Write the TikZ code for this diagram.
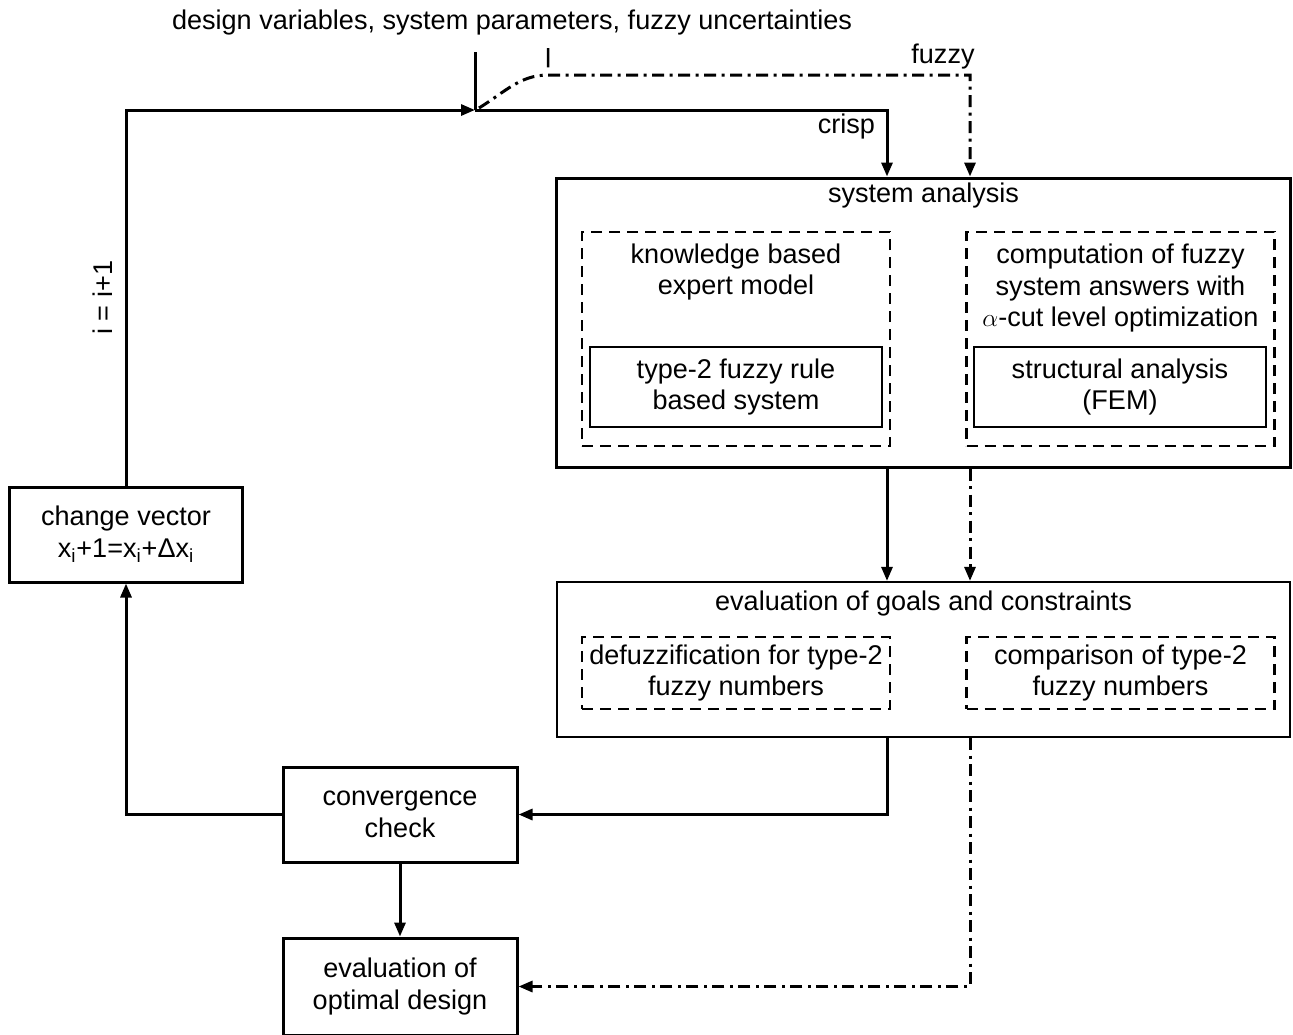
\documentclass[tikz,border=0pt]{standalone}
\usepackage{fontspec}
\setmainfont{Liberation Sans}
\usetikzlibrary{arrows.meta,calc}

\begin{document}
\begin{tikzpicture}[x=0.2mm, y=-0.2mm, >={Triangle[length=2.8mm,width=2.2mm]},
	font=\fontsize{15.4pt}{18pt}\selectfont]
	
	\tikzstyle{mainbox}=[draw, line width=0.6mm, align=center, inner sep=0pt]
	\tikzstyle{evalbox}=[draw, line width=0.45mm, align=center, inner sep=0pt]
	\tikzstyle{groupbox}=[draw, dashed, dash pattern=on 2.2mm off 1.4mm, line width=0.5mm,
	align=center, inner sep=0pt, minimum width=61.6mm]
	\tikzstyle{innerbox}=[draw, line width=0.3mm, align=center, inner sep=0pt,
	minimum width=58.4mm, minimum height=16mm]
	\tikzstyle{caption}=[align=center, inner sep=1pt]
	\tikzstyle{flow}=[line width=0.6mm]
	\tikzstyle{fuzzyflow}=[line width=0.6mm, dash pattern=on 2.4mm off 1.1mm on 0.6mm off 1.1mm]
	
	\useasboundingbox (0,0) rectangle (1293,1034);
	
	% Input text
	\node[caption] (input) at (512,22) {design variables, system parameters, fuzzy uncertainties};
	
	% System analysis
	\node[mainbox, minimum width=146.6mm, minimum height=57.8mm] (sys) at (923.5,322.5) {};
	\node[caption] (systitle) at (923.5,195) {system analysis};
	\node[groupbox, minimum height=42.8mm] (expert) at (736,339) {};
	\node[caption] (experttext) at (736,272) {knowledge based\\expert model};
	\node[innerbox] (rules) at (736,387) {type-2 fuzzy rule\\based system};
	\node[groupbox, minimum height=42.8mm] (alphacut) at (1120.5,339) {};
	\node[caption] (alphatext) at (1120.5,288) {computation of fuzzy\\system answers with\\$\alpha$-cut level optimization};
	\node[innerbox] (fem) at (1120,387) {structural analysis\\(FEM)};
	
	% Goals and constraints
	\node[evalbox, minimum width=146.6mm, minimum height=31mm] (goals) at (923.5,659.5) {};
	\node[caption] (goalstitle) at (923.5,603) {evaluation of goals and constraints};
	\node[groupbox, minimum height=14.4mm] (defuzz) at (736,673) {defuzzification for type-2\\fuzzy numbers};
	\node[groupbox, minimum height=14.4mm] (compare) at (1120.5,673) {comparison of type-2\\fuzzy numbers};
	
	% Loop boxes
	\node[mainbox, minimum width=46.8mm, minimum height=19mm] (conv) at (400,814.5) {convergence\\check};
	\node[mainbox, minimum width=46.8mm, minimum height=19.4mm] (optimal) at (400,986.5) {evaluation of\\optimal design};
	\node[mainbox, minimum width=46.4mm, minimum height=19mm] (change) at (126,534.5)
	{change vector\\x\textsubscript{i}+1=x\textsubscript{i}+Δx\textsubscript{i}};
	
	% Branch points
	\coordinate (infeed) at (475,52);
	\coordinate (merge) at (475,110);
	\coordinate (crispturn) at (887,110);
	\coordinate (fuzzytick) at (548,48);
	\coordinate (fuzzybend) at (548,75);
	\coordinate (fuzzyturn) at (970,75);
	
	% Crisp flow
	\draw[flow] (infeed) -- (merge);
	\draw[->, flow] (merge) -- (crispturn) -- (crispturn |- sys.north);
	\node[caption, anchor=east] (crisp) at (877,126) {crisp};
	\draw[->, flow] (crispturn |- sys.south) -- (crispturn |- goals.north);
	\draw[->, flow] (crispturn |- goals.south) -- (crispturn |- conv.east) -- (conv.east);
	
	% Fuzzy flow
	\draw[line width=0.5mm] (fuzzytick) -- ($(fuzzytick)!0.72!(fuzzybend)$);
	\draw[->, fuzzyflow] ($(merge)+(4,-2)$) .. controls (505,92) and (520,75) .. (fuzzybend)
	-- (fuzzyturn) -- (fuzzyturn |- sys.north);
	\node[caption] (fuzzy) at (943,57) {fuzzy};
	\draw[->, fuzzyflow] (fuzzyturn |- sys.south) -- (fuzzyturn |- goals.north);
	\draw[->, fuzzyflow] (fuzzyturn |- goals.south) -- (fuzzyturn |- optimal.east) -- (optimal.east);
	
	% Iteration loop
	\draw[->, flow] (conv.south) -- (optimal.north);
	\draw[->, flow] (conv.west) -- (change.south |- conv.west) -- (change.south);
	\draw[->, flow] (change.north) -- node[caption, above=2mm, sloped, pos=0.5] {i = i+1} (change.north |- merge) -- (merge);
	
\end{tikzpicture}
\end{document}
